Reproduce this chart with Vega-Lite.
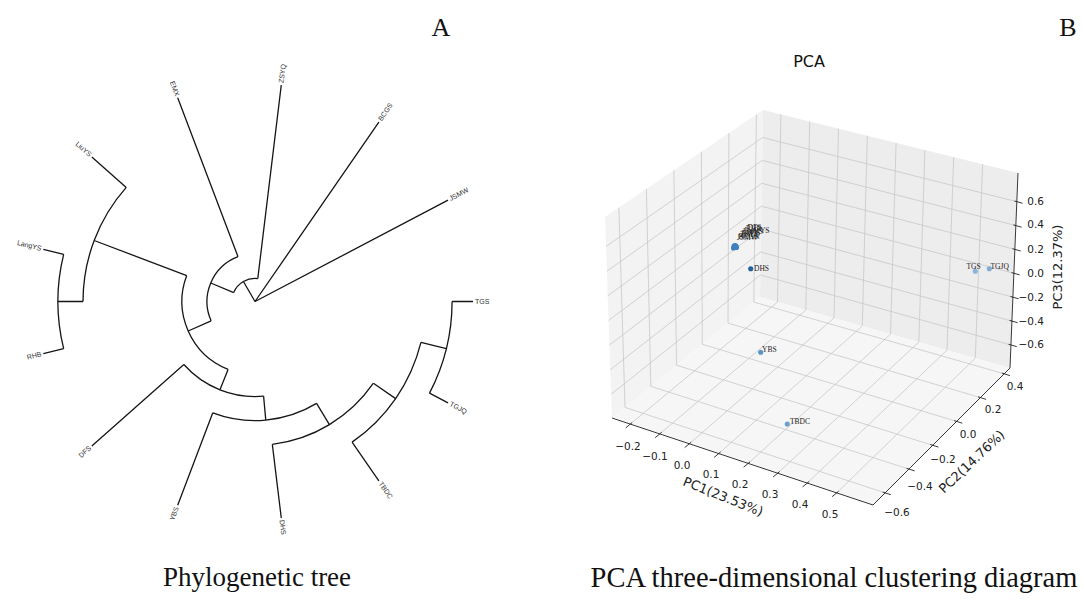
{
"$schema":"https://vega.github.io/schema/vega-lite/v6.json",
"padding":0,"spacing":0,"bounds":"flush","background":"white",
"config":{"view":{"stroke":null},"font":"DejaVu Sans"},
"datasets":{
"tree":[
{"id":"JSMW","t1":27.69,"t2":27.69,"r1":0,"r2":1},
{"id":"BCGS","t1":55.38,"t2":55.38,"r1":0,"r2":1},
{"id":"N1","t1":120.18,"t2":120.18,"r1":0,"r2":0.106},
{"id":"ZSYQ","t1":83.08,"t2":83.08,"r1":0.106,"r2":1},
{"id":"N2","t1":157.29,"t2":157.29,"r1":0.106,"r2":0.22},
{"id":"EMX","t1":110.77,"t2":110.77,"r1":0.22,"r2":1},
{"id":"N3","t1":203.81,"t2":203.81,"r1":0.22,"r2":0.335},
{"id":"N4","t1":159.23,"t2":159.23,"r1":0.335,"r2":0.789},
{"id":"LiuYS","t1":138.46,"t2":138.46,"r1":0.789,"r2":1},
{"id":"N10","t1":180,"t2":180,"r1":0.789,"r2":0.904},
{"id":"LangYS","t1":166.15,"t2":166.15,"r1":0.904,"r2":1},
{"id":"RHB","t1":193.85,"t2":193.85,"r1":0.904,"r2":1},
{"id":"N5","t1":248.37,"t2":248.37,"r1":0.335,"r2":0.436},
{"id":"DFS","t1":221.54,"t2":221.54,"r1":0.436,"r2":1},
{"id":"N6","t1":275.19,"t2":275.19,"r1":0.436,"r2":0.546},
{"id":"YBS","t1":249.23,"t2":249.23,"r1":0.546,"r2":1},
{"id":"N7","t1":301.15,"t2":301.15,"r1":0.546,"r2":0.66},
{"id":"DHS","t1":276.92,"t2":276.92,"r1":0.66,"r2":1},
{"id":"N8","t1":325.38,"t2":325.38,"r1":0.66,"r2":0.784},
{"id":"TBDC","t1":304.62,"t2":304.62,"r1":0.784,"r2":1},
{"id":"N9","t1":346.15,"t2":346.15,"r1":0.784,"r2":0.904},
{"id":"TGJQ","t1":332.31,"t2":332.31,"r1":0.904,"r2":1},
{"id":"TGS","t1":360,"t2":360,"r1":0.904,"r2":1},
{"id":"N1a","t1":83.08,"t2":157.29,"r1":0.106,"r2":0.106},
{"id":"N2a","t1":110.77,"t2":203.81,"r1":0.22,"r2":0.22},
{"id":"N3a","t1":159.23,"t2":248.37,"r1":0.335,"r2":0.335},
{"id":"N4a","t1":138.46,"t2":180,"r1":0.789,"r2":0.789},
{"id":"N10a","t1":166.15,"t2":193.85,"r1":0.904,"r2":0.904},
{"id":"N5a","t1":221.54,"t2":275.19,"r1":0.436,"r2":0.436},
{"id":"N6a","t1":249.23,"t2":301.15,"r1":0.546,"r2":0.546},
{"id":"N7a","t1":276.92,"t2":325.38,"r1":0.66,"r2":0.66},
{"id":"N8a","t1":304.62,"t2":346.15,"r1":0.784,"r2":0.784},
{"id":"N9a","t1":332.31,"t2":360,"r1":0.904,"r2":0.904}
],
"tips":[
{"name":"TGS","angle":0,"r":1},{"name":"JSMW","angle":27.69,"r":1},{"name":"BCGS","angle":55.38,"r":1},
{"name":"ZSYQ","angle":83.08,"r":1},{"name":"EMX","angle":110.77,"r":1},{"name":"LiuYS","angle":138.46,"r":1},
{"name":"LangYS","angle":166.15,"r":1},{"name":"RHB","angle":193.85,"r":1},{"name":"DFS","angle":221.54,"r":1},
{"name":"YBS","angle":249.23,"r":1},{"name":"DHS","angle":-83.08,"r":1},{"name":"TBDC","angle":-55.38,"r":1},
{"name":"TGJQ","angle":-27.69,"r":1}
],
"panes":[
{"pane":"x","sx":605,"sy":217,"sy2":217},{"pane":"x","sx":612,"sy":212.3,"sy2":418},{"pane":"x","sx":760,"sy":112,"sy2":297},{"pane":"x","sx":763,"sy":110,"sy2":110},
{"pane":"y","sx":760,"sy":297,"sy2":297},{"pane":"y","sx":763,"sy":110,"sy2":297.9},{"pane":"y","sx":1010,"sy":171,"sy2":368},{"pane":"y","sx":1018,"sy":173,"sy2":173},
{"pane":"z","sx":612,"sy":418,"sy2":418},{"pane":"z","sx":760,"sy":297,"sy2":467.3},{"pane":"z","sx":873,"sy":329.1,"sy2":505},{"pane":"z","sx":1010,"sy":368,"sy2":368}
],
"grid":[
{"gid":"gx1","k":0,"sx":630.3,"sy":424.1},{"gid":"gx1","k":1,"sx":777.5,"sy":302.0},{"gid":"gx1","k":2,"sx":780.9,"sy":114.4},
{"gid":"gx2","k":0,"sx":659.8,"sy":433.9},{"gid":"gx2","k":1,"sx":805.8,"sy":310.0},{"gid":"gx2","k":2,"sx":809.7,"sy":121.5},
{"gid":"gx3","k":0,"sx":689.3,"sy":443.8},{"gid":"gx3","k":1,"sx":834.0,"sy":318.0},{"gid":"gx3","k":2,"sx":838.5,"sy":128.6},
{"gid":"gx4","k":0,"sx":718.7,"sy":453.6},{"gid":"gx4","k":1,"sx":862.3,"sy":326.0},{"gid":"gx4","k":2,"sx":867.3,"sy":135.8},
{"gid":"gx5","k":0,"sx":748.2,"sy":463.4},{"gid":"gx5","k":1,"sx":890.5,"sy":334.1},{"gid":"gx5","k":2,"sx":896.1,"sy":142.9},
{"gid":"gx6","k":0,"sx":777.7,"sy":473.2},{"gid":"gx6","k":1,"sx":918.8,"sy":342.1},{"gid":"gx6","k":2,"sx":924.9,"sy":150.0},
{"gid":"gx7","k":0,"sx":807.2,"sy":483.1},{"gid":"gx7","k":1,"sx":947.0,"sy":350.1},{"gid":"gx7","k":2,"sx":953.7,"sy":157.1},
{"gid":"gx8","k":0,"sx":836.7,"sy":492.9},{"gid":"gx8","k":1,"sx":975.3,"sy":358.1},{"gid":"gx8","k":2,"sx":982.6,"sy":164.2},
{"gid":"gy1","k":0,"sx":885.1,"sy":492.9},{"gid":"gy1","k":1,"sx":625.0,"sy":407.4},{"gid":"gy1","k":2,"sx":618.9,"sy":207.6},
{"gid":"gy2","k":0,"sx":908.9,"sy":469.1},{"gid":"gy2","k":1,"sx":650.8,"sy":386.3},{"gid":"gy2","k":2,"sx":646.4,"sy":189.0},
{"gid":"gy3","k":0,"sx":932.7,"sy":445.3},{"gid":"gy3","k":1,"sx":676.5,"sy":365.2},{"gid":"gy3","k":2,"sx":673.9,"sy":170.3},
{"gid":"gy4","k":0,"sx":956.6,"sy":421.4},{"gid":"gy4","k":1,"sx":702.3,"sy":344.2},{"gid":"gy4","k":2,"sx":701.4,"sy":151.7},
{"gid":"gy5","k":0,"sx":980.4,"sy":397.6},{"gid":"gy5","k":1,"sx":728.0,"sy":323.1},{"gid":"gy5","k":2,"sx":728.9,"sy":133.1},
{"gid":"gy6","k":0,"sx":1004.2,"sy":373.8},{"gid":"gy6","k":1,"sx":753.8,"sy":302.1},{"gid":"gy6","k":2,"sx":756.4,"sy":114.5},
{"gid":"gz1","k":0,"sx":611.2,"sy":394.3},{"gid":"gz1","k":1,"sx":760.4,"sy":274.9},{"gid":"gz1","k":2,"sx":1010.9,"sy":345.0},
{"gid":"gz2","k":0,"sx":610.3,"sy":369.7},{"gid":"gz2","k":1,"sx":760.7,"sy":252.0},{"gid":"gz2","k":2,"sx":1011.9,"sy":321.1},
{"gid":"gz3","k":0,"sx":609.5,"sy":345.0},{"gid":"gz3","k":1,"sx":761.1,"sy":229.1},{"gid":"gz3","k":2,"sx":1012.9,"sy":297.2},
{"gid":"gz4","k":0,"sx":608.6,"sy":320.4},{"gid":"gz4","k":1,"sx":761.5,"sy":206.2},{"gid":"gz4","k":2,"sx":1013.9,"sy":273.3},
{"gid":"gz5","k":0,"sx":607.7,"sy":295.8},{"gid":"gz5","k":1,"sx":761.8,"sy":183.3},{"gid":"gz5","k":2,"sx":1014.9,"sy":249.4},
{"gid":"gz6","k":0,"sx":606.9,"sy":271.2},{"gid":"gz6","k":1,"sx":762.2,"sy":160.4},{"gid":"gz6","k":2,"sx":1015.8,"sy":225.6},
{"gid":"gz7","k":0,"sx":606.0,"sy":246.5},{"gid":"gz7","k":1,"sx":762.6,"sy":137.5},{"gid":"gz7","k":2,"sx":1016.8,"sy":201.7}
],
"axes":[
{"lid":"ax","k":0,"sx":612,"sy":418},{"lid":"ax","k":1,"sx":873,"sy":505},
{"lid":"ay","k":0,"sx":873,"sy":505},{"lid":"ay","k":1,"sx":1010,"sy":368},
{"lid":"az","k":0,"sx":1010,"sy":368},{"lid":"az","k":1,"sx":1018,"sy":173},
{"lid":"tx1","k":0,"sx":632.2,"sy":422.5},{"lid":"tx1","k":1,"sx":625.7,"sy":427.9},
{"lid":"tx2","k":0,"sx":661.7,"sy":432.3},{"lid":"tx2","k":1,"sx":655.2,"sy":437.7},
{"lid":"tx3","k":0,"sx":691.2,"sy":442.2},{"lid":"tx3","k":1,"sx":684.7,"sy":447.6},
{"lid":"tx4","k":0,"sx":720.6,"sy":452.0},{"lid":"tx4","k":1,"sx":714.1,"sy":457.4},
{"lid":"tx5","k":0,"sx":750.1,"sy":461.8},{"lid":"tx5","k":1,"sx":743.6,"sy":467.2},
{"lid":"tx6","k":0,"sx":779.6,"sy":471.6},{"lid":"tx6","k":1,"sx":773.1,"sy":477.0},
{"lid":"tx7","k":0,"sx":809.1,"sy":481.5},{"lid":"tx7","k":1,"sx":802.6,"sy":486.9},
{"lid":"tx8","k":0,"sx":838.6,"sy":491.3},{"lid":"tx8","k":1,"sx":832.1,"sy":496.7},
{"lid":"ty1","k":0,"sx":882.7,"sy":492.1},{"lid":"ty1","k":1,"sx":890.8,"sy":494.7},
{"lid":"ty2","k":0,"sx":906.5,"sy":468.3},{"lid":"ty2","k":1,"sx":914.6,"sy":470.9},
{"lid":"ty3","k":0,"sx":930.3,"sy":444.5},{"lid":"ty3","k":1,"sx":938.4,"sy":447.1},
{"lid":"ty4","k":0,"sx":954.2,"sy":420.6},{"lid":"ty4","k":1,"sx":962.3,"sy":423.2},
{"lid":"ty5","k":0,"sx":978.0,"sy":396.8},{"lid":"ty5","k":1,"sx":986.1,"sy":399.4},
{"lid":"ty6","k":0,"sx":1001.8,"sy":373.0},{"lid":"ty6","k":1,"sx":1009.9,"sy":375.6},
{"lid":"tz1","k":0,"sx":1008.5,"sy":344.3},{"lid":"tz1","k":1,"sx":1016.7,"sy":346.6},
{"lid":"tz2","k":0,"sx":1009.5,"sy":320.4},{"lid":"tz2","k":1,"sx":1017.7,"sy":322.7},
{"lid":"tz3","k":0,"sx":1010.5,"sy":296.5},{"lid":"tz3","k":1,"sx":1018.7,"sy":298.8},
{"lid":"tz4","k":0,"sx":1011.5,"sy":272.6},{"lid":"tz4","k":1,"sx":1019.7,"sy":274.9},
{"lid":"tz5","k":0,"sx":1012.5,"sy":248.7},{"lid":"tz5","k":1,"sx":1020.7,"sy":251.0},
{"lid":"tz6","k":0,"sx":1013.4,"sy":224.9},{"lid":"tz6","k":1,"sx":1021.6,"sy":227.2},
{"lid":"tz7","k":0,"sx":1014.4,"sy":201.0},{"lid":"tz7","k":1,"sx":1022.6,"sy":203.3}
],
"ticklabels":[
{"axis":"x","label":"−0.2","sx":628,"sy":447},{"axis":"x","label":"−0.1","sx":655,"sy":457},{"axis":"x","label":"0.0","sx":682,"sy":466},
{"axis":"x","label":"0.1","sx":711,"sy":475},{"axis":"x","label":"0.2","sx":740,"sy":485},{"axis":"x","label":"0.3","sx":770,"sy":495},
{"axis":"x","label":"0.4","sx":800,"sy":505},{"axis":"x","label":"0.5","sx":830,"sy":515},
{"axis":"y","label":"−0.6","sx":897,"sy":513},{"axis":"y","label":"−0.4","sx":920,"sy":487},{"axis":"y","label":"−0.2","sx":943,"sy":460},
{"axis":"y","label":"0.0","sx":968,"sy":435},{"axis":"y","label":"0.2","sx":993,"sy":410},{"axis":"y","label":"0.4","sx":1015,"sy":387},
{"axis":"z","label":"−0.6","sx":1044,"sy":345},{"axis":"z","label":"−0.4","sx":1044,"sy":321.7},{"axis":"z","label":"−0.2","sx":1044,"sy":298.3},
{"axis":"z","label":"0.0","sx":1044,"sy":274.3},{"axis":"z","label":"0.2","sx":1044,"sy":250},{"axis":"z","label":"0.4","sx":1044,"sy":225.3},
{"axis":"z","label":"0.6","sx":1044,"sy":201.7}
],
"samples":[
{"name":"JSMW","sx":733.5,"sy":248},{"name":"BCGS","sx":734.5,"sy":247.5},{"name":"ZSYQ","sx":735.5,"sy":246.5},
{"name":"EMX","sx":736,"sy":246},{"name":"LiuYS","sx":734,"sy":246},{"name":"LangYS","sx":736.5,"sy":247.5},
{"name":"RHB","sx":735,"sy":245.5},{"name":"DFS","sx":735,"sy":247},
{"name":"DHS","sx":750.7,"sy":268.7},{"name":"TGS","sx":975.3,"sy":271.3},{"name":"TGJQ","sx":989.3,"sy":268.7},
{"name":"YBS","sx":760.7,"sy":352.3},{"name":"TBDC","sx":787.3,"sy":424}
],
"slabels":[
{"name":"JSMW","sx":737,"sy":240},{"name":"BCGS","sx":738.5,"sy":238.5},{"name":"ZSYQ","sx":740,"sy":237},
{"name":"EMX","sx":741.5,"sy":235.5},{"name":"LiuYS","sx":743,"sy":234},{"name":"LangYS","sx":744.5,"sy":232.5},
{"name":"RHB","sx":746,"sy":231},{"name":"DFS","sx":747.5,"sy":229.5},
{"name":"DHS","sx":754,"sy":270.5},{"name":"TGS","sx":966.5,"sy":268.5},{"name":"TGJQ","sx":990.5,"sy":268.5},
{"name":"YBS","sx":762,"sy":351.5},{"name":"TBDC","sx":790,"sy":424}
]
},
"hconcat":[
{"width":510,"height":603,
 "layer":[
  {"data":{"name":"tree"},"mark":{"type":"arc","filled":false,"stroke":"#151515","strokeWidth":1.3},
   "encoding":{
    "theta":{"field":"t1","type":"quantitative","stack":null,"scale":{"domain":[0,360],"range":[1.5707963,-4.712389],"nice":false,"zero":false}},
    "theta2":{"field":"t2"},
    "radius":{"field":"r1","type":"quantitative","stack":null,"scale":{"type":"linear","domain":[0,1],"range":[0,218],"nice":false,"zero":true}},
    "radius2":{"field":"r2"}}},
  {"data":{"name":"tips"},"transform":[{"filter":"datum.angle < 90"}],
   "mark":{"type":"text","align":"left","baseline":"middle","dx":2,"font":"Liberation Sans","fontSize":7,"fill":"#333333"},
   "encoding":{
    "theta":{"field":"angle","type":"quantitative","stack":null},
    "radius":{"field":"r","type":"quantitative","stack":null},
    "angle":{"field":"angle","type":"quantitative","scale":{"domain":[-90,90],"range":[90,-90]},"legend":null},
    "text":{"field":"name"}}},
  {"data":{"name":"tips"},"transform":[{"filter":"datum.angle >= 90"}],
   "mark":{"type":"text","align":"right","baseline":"middle","dx":-2,"font":"Liberation Sans","fontSize":7,"fill":"#333333"},
   "encoding":{
    "theta":{"field":"angle","type":"quantitative","stack":null},
    "radius":{"field":"r","type":"quantitative","stack":null},
    "angle":{"field":"angle","type":"quantitative","scale":{"domain":[90,270],"range":[90,-90]},"legend":null},
    "text":{"field":"name"}}},
  {"data":{"values":[{"label":"A","sx":441,"sy":28}]},
   "mark":{"type":"text","font":"Liberation Serif","fontSize":26,"align":"center","baseline":"middle","fill":"#111111"},
   "encoding":{
    "x":{"field":"sx","type":"quantitative","scale":{"domain":[0,510],"nice":false,"zero":false},"axis":null},
    "y":{"field":"sy","type":"quantitative","scale":{"domain":[603,0],"nice":false,"zero":false},"axis":null},
    "text":{"field":"label"}}},
  {"data":{"values":[{"label":"Phylogenetic tree","sx":257,"sy":578}]},
   "mark":{"type":"text","font":"Liberation Serif","fontSize":27,"align":"center","baseline":"middle","fill":"#111111"},
   "encoding":{
    "x":{"field":"sx","type":"quantitative","scale":{"domain":[0,510],"nice":false,"zero":false},"axis":null},
    "y":{"field":"sy","type":"quantitative","scale":{"domain":[603,0],"nice":false,"zero":false},"axis":null},
    "text":{"field":"label"}}}
 ],
 "resolve":{"scale":{"angle":"independent"}}
},
{"width":573,"height":603,
 "encoding":{
  "x":{"field":"sx","type":"quantitative","scale":{"domain":[510,1083],"nice":false,"zero":false},"axis":null},
  "y":{"field":"sy","type":"quantitative","scale":{"domain":[603,0],"nice":false,"zero":false},"axis":null}},
 "layer":[
  {"data":{"name":"panes"},"transform":[{"filter":"datum.pane == 'x'"}],"mark":{"type":"area","color":"#f3f3f3","opacity":1},
   "encoding":{"y":{"field":"sy","type":"quantitative","stack":null},"y2":{"field":"sy2"}}},
  {"data":{"name":"panes"},"transform":[{"filter":"datum.pane == 'y'"}],"mark":{"type":"area","color":"#ededed","opacity":1},
   "encoding":{"y":{"field":"sy","type":"quantitative","stack":null},"y2":{"field":"sy2"}}},
  {"data":{"name":"panes"},"transform":[{"filter":"datum.pane == 'z'"}],"mark":{"type":"area","color":"#f6f6f6","opacity":1},
   "encoding":{"y":{"field":"sy","type":"quantitative","stack":null},"y2":{"field":"sy2"}}},
  {"data":{"name":"grid"},"mark":{"type":"line","stroke":"#c8c8c8","strokeWidth":0.8},
   "encoding":{"detail":{"field":"gid"},"order":{"field":"k","type":"quantitative"}}},
  {"data":{"name":"axes"},"mark":{"type":"line","stroke":"#222222","strokeWidth":0.9},
   "encoding":{"detail":{"field":"lid"},"order":{"field":"k","type":"quantitative"}}},
  {"data":{"name":"ticklabels"},"transform":[{"filter":"datum.axis != 'z'"}],
   "mark":{"type":"text","font":"DejaVu Sans","fontSize":10.5,"align":"center","baseline":"middle","fill":"#222222"},
   "encoding":{"text":{"field":"label"}}},
  {"data":{"name":"ticklabels"},"transform":[{"filter":"datum.axis == 'z'"}],
   "mark":{"type":"text","font":"DejaVu Sans","fontSize":10.5,"align":"right","baseline":"middle","fill":"#222222"},
   "encoding":{"text":{"field":"label"}}},
  {"data":{"values":[{"label":"PC1(23.53%)","sx":723,"sy":497}]},
   "mark":{"type":"text","font":"DejaVu Sans","fontSize":13,"align":"center","baseline":"middle","angle":21.8,"fill":"#222222"},
   "encoding":{"text":{"field":"label"}}},
  {"data":{"values":[{"label":"PC2(14.76%)","sx":972,"sy":462}]},
   "mark":{"type":"text","font":"DejaVu Sans","fontSize":13,"align":"center","baseline":"middle","angle":-43.5,"fill":"#222222"},
   "encoding":{"text":{"field":"label"}}},
  {"data":{"values":[{"label":"PC3(12.37%)","sx":1058,"sy":267}]},
   "mark":{"type":"text","font":"DejaVu Sans","fontSize":13,"align":"center","baseline":"middle","angle":-90,"fill":"#222222"},
   "encoding":{"text":{"field":"label"}}},
  {"data":{"values":[{"label":"PCA","sx":809,"sy":62}]},
   "mark":{"type":"text","font":"DejaVu Sans","fontSize":16,"align":"center","baseline":"middle","fill":"#111111"},
   "encoding":{"text":{"field":"label"}}},
  {"data":{"name":"samples"},"mark":{"type":"circle","size":26,"opacity":1},
   "encoding":{"color":{"field":"name","type":"nominal","legend":null,
    "scale":{"domain":["JSMW","BCGS","ZSYQ","EMX","LiuYS","LangYS","RHB","DFS","DHS","TGS","TGJQ","YBS","TBDC"],
     "range":["#3f80bf","#3f80bf","#3f80bf","#3f80bf","#3f80bf","#3f80bf","#3f80bf","#3f80bf","#23609f","#8ab5db","#7fadd6","#5b95c8","#6ba0cf"]}}}},
  {"data":{"name":"slabels"},
   "mark":{"type":"text","font":"Liberation Serif","fontSize":7.5,"align":"left","baseline":"alphabetic","fill":"#222222"},
   "encoding":{"text":{"field":"name"}}},
  {"data":{"values":[{"label":"B","sx":1068,"sy":28}]},
   "mark":{"type":"text","font":"Liberation Serif","fontSize":26,"align":"center","baseline":"middle","fill":"#111111"},
   "encoding":{"text":{"field":"label"}}},
  {"data":{"values":[{"label":"PCA three-dimensional clustering diagram","sx":834,"sy":578}]},
   "mark":{"type":"text","font":"Liberation Serif","fontSize":28.5,"align":"center","baseline":"middle","fill":"#111111"},
   "encoding":{"text":{"field":"label"}}}
 ]
}
]
}
